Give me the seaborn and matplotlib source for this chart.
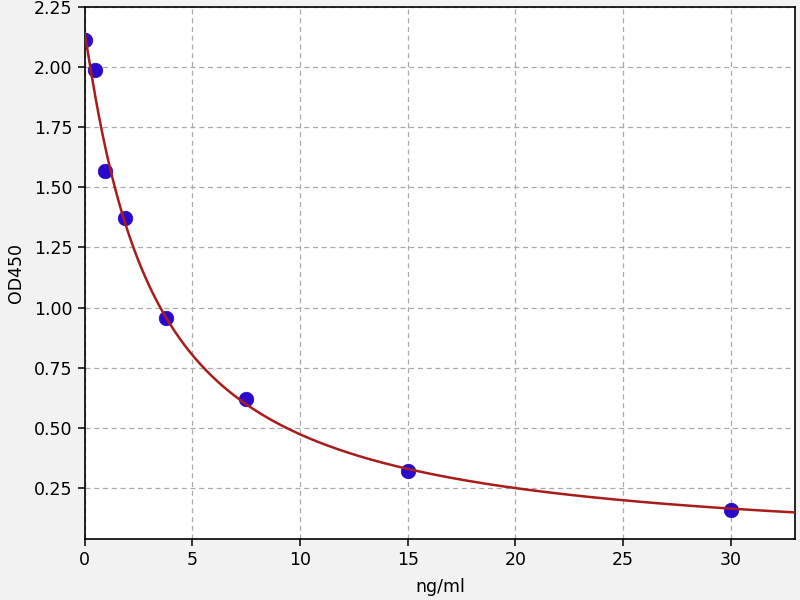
import numpy as np
import pandas as pd
import matplotlib
matplotlib.use("Agg")
import matplotlib.pyplot as plt
import seaborn as sns

# Data
conc = [0.0, 0.47, 0.94, 1.88, 3.75, 7.5, 15.0, 30.0]
od450 = [2.115, 1.99, 1.568, 1.372, 0.955, 0.621, 0.321, 0.158]
x_ticks = [0, 5, 10, 15, 20, 25, 30]
y_ticks = [0.25, 0.50, 0.75, 1.00, 1.25, 1.50, 1.75, 2.00, 2.25]

# Four-parameter logistic fit of the standards (grid search + linear LS)
xd = np.array(conc)
yd = np.array(od450)
best = None
for b in np.linspace(0.5, 2.5, 201):
    for c in np.linspace(1.0, 10.0, 181):
        g = 1.0 / (1.0 + (xd / c) ** b)
        A = np.column_stack([g, 1.0 - g])
        coef, *_ = np.linalg.lstsq(A, yd, rcond=None)
        sse = np.sum((A @ coef - yd) ** 2)
        if best is None or sse < best[0]:
            best = (sse, b, c, coef[0], coef[1])
_, b, c, a, d = best
xc = np.linspace(0, 33, 400)
yc = d + (a - d) / (1.0 + (xc / c) ** b)

pts = pd.DataFrame({"conc": conc, "od": od450})
curve = pd.DataFrame({"x": xc, "y": yc})

sns.set_style("white")
plt.rcParams['font.family'] = ['DejaVu Sans']
plt.rcParams['text.color'] = 'black'
plt.rcParams['axes.labelcolor'] = 'black'
plt.rcParams['xtick.color'] = 'black'
plt.rcParams['ytick.color'] = 'black'
fig = plt.figure(figsize=(8, 6), dpi=100, facecolor="#f2f2f2")
ax = fig.add_axes([0.106, 0.102, 0.888, 0.886])
ax.set_facecolor("white")

sns.scatterplot(data=pts, x="conc", y="od", ax=ax, s=110, color="#2a08cc",
                edgecolor="#2a08cc", linewidth=0.5, zorder=3)
sns.lineplot(data=curve, x="x", y="y", ax=ax, color="#a81c1c", linewidth=1.8,
             zorder=4)

ax.set_xlim(0, 33)
ax.set_ylim(0.0375, 2.25)
ax.set_xticks(x_ticks)
ax.set_yticks(y_ticks)
ax.set_yticklabels([f"{v:.2f}" for v in y_ticks])
ax.grid(True, color="#aaaaaa", linestyle=(0, (4, 3)), linewidth=0.9)
for s in ax.spines.values():
    s.set_color("black")
    s.set_linewidth(1.2)
ax.tick_params(axis="both", labelsize=12.5, length=5, width=1.1,
               color="black", labelcolor="black", bottom=True, left=True, pad=4)
ax.set_xlabel("ng/ml", fontsize=12.5, labelpad=6, color="black")
ax.set_ylabel("OD450", fontsize=12.5, labelpad=6, color="black")

fig.savefig("out.png", dpi=100, facecolor=fig.get_facecolor())
